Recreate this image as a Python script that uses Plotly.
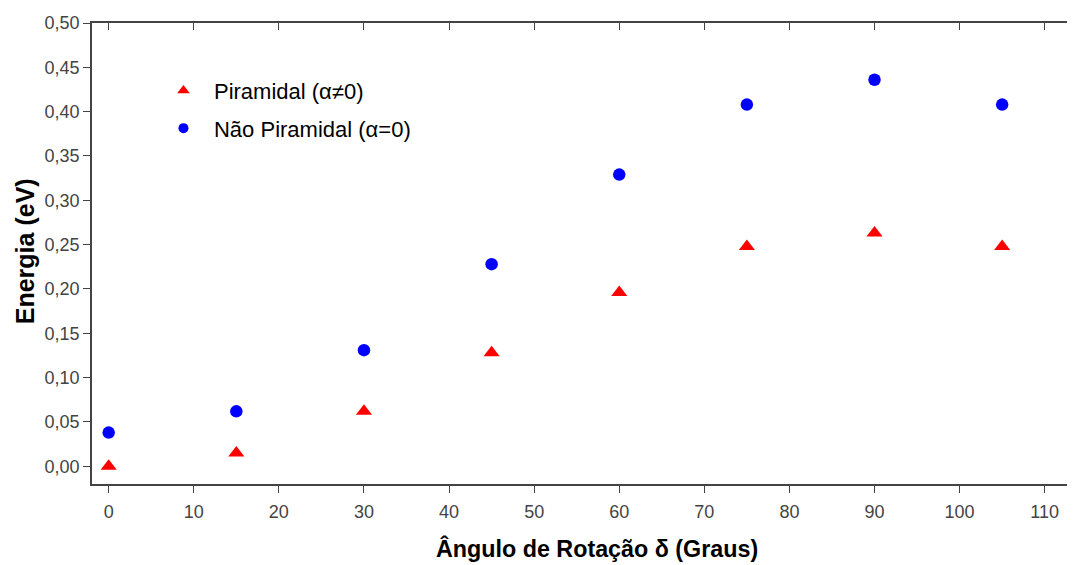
import plotly.graph_objects as go

angles = [0, 15, 30, 45, 60, 75, 90, 105]
piramidal = [0.000, 0.015, 0.062, 0.128, 0.196, 0.248, 0.263, 0.248]
nao_piramidal = [0.038, 0.062, 0.131, 0.228, 0.329, 0.408, 0.436, 0.408]
x_ticks = [0, 10, 20, 30, 40, 50, 60, 70, 80, 90, 100, 110]
y_ticks = [0.00, 0.05, 0.10, 0.15, 0.20, 0.25, 0.30, 0.35, 0.40, 0.45, 0.50]

FONT = "Liberation Sans, Arial, Helvetica, sans-serif"
NB = "\u00a0\u2009"

fig = go.Figure()
fig.add_trace(go.Scatter(x=angles, y=piramidal, mode="markers", showlegend=False,
                         marker=dict(symbol="triangle-up", size=14, color="#ff0000")))
fig.add_trace(go.Scatter(x=angles, y=nao_piramidal, mode="markers", showlegend=False,
                         marker=dict(symbol="circle", size=12.5, color="#0000ff")))
# legend entries
fig.add_trace(go.Scatter(x=[None], y=[None], mode="markers", name=NB + "Piramidal (α≠0)",
                         legendgroup="a",
                         marker=dict(symbol="triangle-up", size=11, color="#ff0000")))
fig.add_trace(go.Scatter(x=[None], y=[None], mode="markers", name=NB + "Não Piramidal (α=0)",
                         legendgroup="b",
                         marker=dict(symbol="circle", size=10, color="#0000ff")))

axis_color = "#444444"
fig.update_layout(
    width=1059, height=565,
    margin=dict(l=84.3, r=0, t=15.3, b=89.3),
    paper_bgcolor="white", plot_bgcolor="white",
    separators=",.",
    font=dict(family=FONT, color="#444444"),
    xaxis=dict(range=[-1.96, 112.62], tickvals=x_ticks, ticks="outside", ticklen=7, automargin=False,
               tickcolor=axis_color, showline=True, linecolor=axis_color, linewidth=1.5,
               showgrid=False, zeroline=False, tickfont=dict(size=18, color="#444444"),
               ticklabelstandoff=4),
    xaxis2=dict(range=[-1.96, 112.62], tickvals=x_ticks, ticks="inside", ticklen=7, automargin=False,
                tickcolor=axis_color, showline=True, linecolor=axis_color, linewidth=1.5,
                showgrid=False, zeroline=False, showticklabels=False,
                overlaying="x", side="top", anchor="y"),
    yaxis=dict(range=[-0.02, 0.50], tickvals=y_ticks, tickformat=".2f", ticks="outside", ticklen=7,
               automargin=False,
               tickcolor=axis_color, showline=True, linecolor=axis_color, linewidth=1.5,
               showgrid=False, zeroline=False, tickfont=dict(size=18, color="#444444")),
    legend=dict(x=0.0733, y=0.8986, xanchor="left", yanchor="top", bgcolor="rgba(0,0,0,0)",
                font=dict(size=22, color="black"), traceorder="grouped", tracegroupgap=6,
                itemsizing="trace"),
    annotations=[
        dict(text="<b>Ângulo de Rotação δ (Graus)</b>", xref="paper", yref="paper",
             x=0.5178, y=-0.1397, xanchor="center", yanchor="middle", showarrow=False,
             font=dict(size=23.3, color="black")),
        dict(text="<b>Energia (eV)</b>", xref="paper", yref="paper", textangle=-90,
             x=-0.069, y=0.5043, xanchor="center", yanchor="middle", showarrow=False,
             font=dict(size=25, color="black")),
    ],
)
fig.add_trace(go.Scatter(x=[None], y=[None], xaxis="x2", showlegend=False))

fig.write_html("out.html")
